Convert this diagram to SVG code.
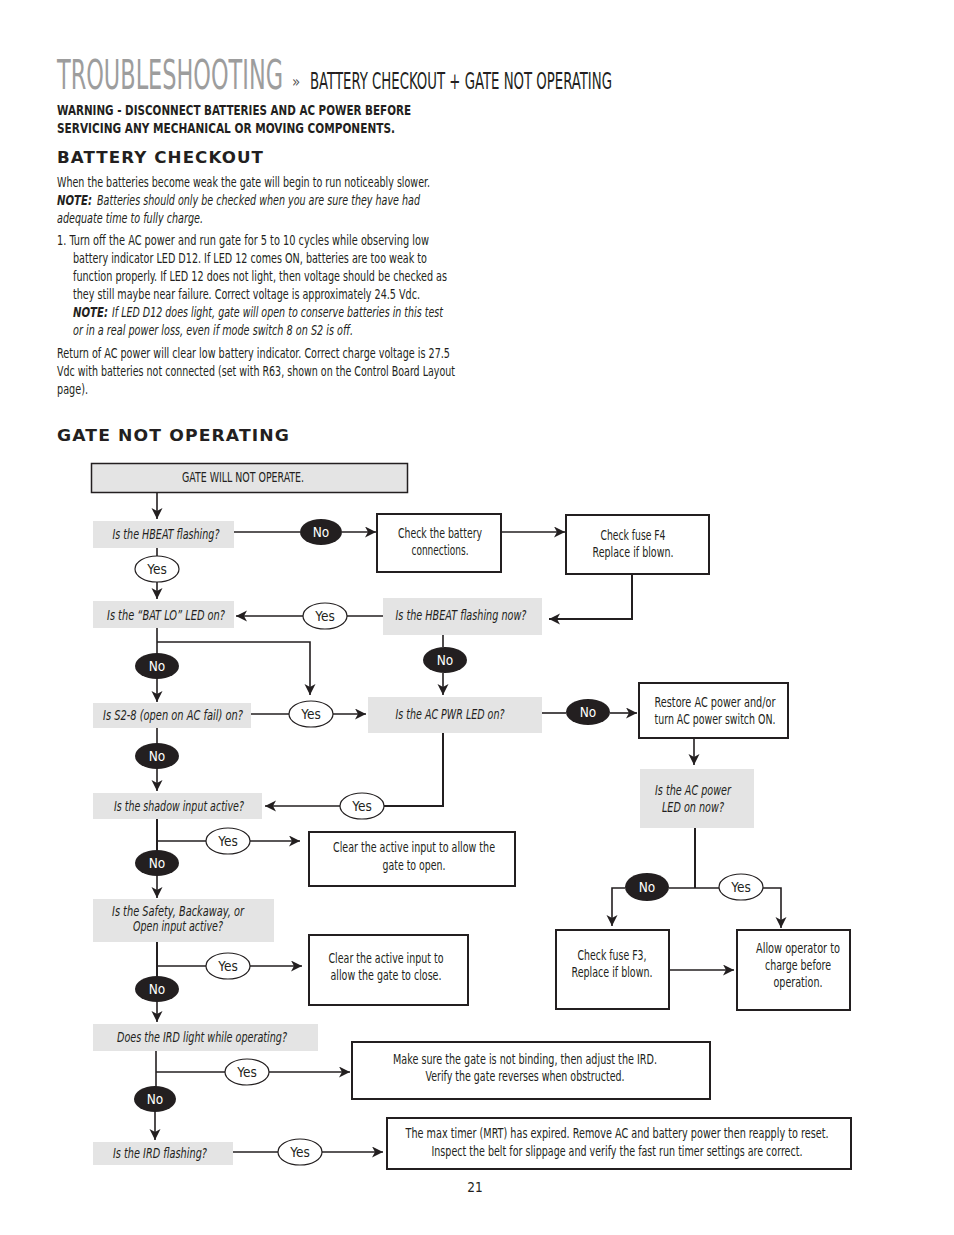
<svg xmlns="http://www.w3.org/2000/svg" width="954" height="1235" viewBox="0 0 954 1235">
<style>
text{font-family:"Liberation Sans Narrow","DejaVu Sans Condensed","Liberation Sans",sans-serif;fill:#231f20}
.t{font-size:13.5px}
.i{font-style:italic}
.bd{font-weight:bold}
.q{fill:#e4e4e4}
.gb{fill:#e4e4e4;stroke:#231f20;stroke-width:1.5}
.b{fill:#fff;stroke:#231f20;stroke-width:2}
.c{fill:none;stroke:#231f20;stroke-width:1.6}
.no{fill:#231f20}
.yes{fill:#fff;stroke:#231f20;stroke-width:1.2}
.nt{fill:#fff;font-size:13.5px}
.hd{font-family:"DejaVu Sans",sans-serif;font-weight:900;font-size:15.5px;letter-spacing:1px}
</style>
<defs>
<marker id="ar" markerUnits="userSpaceOnUse" markerWidth="12" markerHeight="12" refX="11" refY="5.5" orient="auto">
<path d="M0,0 L11,5.5 L0,11 L3,5.5 z" fill="#231f20"/>
</marker>
</defs>
<rect width="954" height="1235" fill="#fff"/>

<g id="header">
<text transform="translate(57,89) scale(1,1.55)" x="0" y="0" font-size="26" style="fill:#9d9d9d" textLength="226" lengthAdjust="spacingAndGlyphs">TROUBLESHOOTING</text>
<text x="292" y="87" font-size="15" style="fill:#555">»</text>
<text transform="translate(310,89) scale(1,1.35)" x="0" y="0" font-size="17" textLength="302" lengthAdjust="spacingAndGlyphs">BATTERY CHECKOUT + GATE NOT OPERATING</text>
<text x="57" y="115" class="bd" font-size="14" textLength="354" lengthAdjust="spacingAndGlyphs">WARNING - DISCONNECT BATTERIES AND AC POWER BEFORE</text>
<text x="57" y="133" class="bd" font-size="14" textLength="338" lengthAdjust="spacingAndGlyphs">SERVICING ANY MECHANICAL OR MOVING COMPONENTS.</text>
<text x="57" y="163" class="hd" textLength="207" lengthAdjust="spacingAndGlyphs">BATTERY CHECKOUT</text>
</g>

<g id="battery-text" font-size="13.5">
<text x="57" y="187" textLength="373" lengthAdjust="spacingAndGlyphs">When the batteries become weak the gate will begin to run noticeably slower.</text>
<text x="57" y="205" class="i bd" textLength="35" lengthAdjust="spacingAndGlyphs">NOTE:</text>
<text x="97" y="205" class="i" textLength="323" lengthAdjust="spacingAndGlyphs">Batteries should only be checked when you are sure they have had</text>
<text x="57" y="223" class="i" textLength="146" lengthAdjust="spacingAndGlyphs">adequate time to fully charge.</text>
<text x="57" y="245" textLength="372" lengthAdjust="spacingAndGlyphs">1.  Turn off the AC power and run gate for 5 to 10 cycles while observing low</text>
<text x="73" y="263" textLength="354" lengthAdjust="spacingAndGlyphs">battery indicator LED D12. If LED 12 comes ON, batteries are too weak to</text>
<text x="73" y="281" textLength="374" lengthAdjust="spacingAndGlyphs">function properly. If LED 12 does not light, then voltage should be checked as</text>
<text x="73" y="299" textLength="347" lengthAdjust="spacingAndGlyphs">they still maybe near failure. Correct voltage is approximately 24.5 Vdc.</text>
<text x="73" y="317" class="i bd" textLength="35" lengthAdjust="spacingAndGlyphs">NOTE:</text>
<text x="112" y="317" class="i" textLength="331" lengthAdjust="spacingAndGlyphs">If LED D12 does light, gate will open to conserve batteries in this test</text>
<text x="73" y="335" class="i" textLength="280" lengthAdjust="spacingAndGlyphs">or in a real power loss, even if mode switch 8 on S2 is off.</text>
<text x="57" y="358" textLength="393" lengthAdjust="spacingAndGlyphs">Return of AC power will clear low battery indicator. Correct charge voltage is 27.5</text>
<text x="57" y="376" textLength="398" lengthAdjust="spacingAndGlyphs">Vdc with batteries not connected (set with R63, shown on the Control Board Layout</text>
<text x="57" y="394" textLength="31" lengthAdjust="spacingAndGlyphs">page).</text>
<text x="57" y="441" class="hd" textLength="233" lengthAdjust="spacingAndGlyphs">GATE NOT OPERATING</text>
</g>

<g id="connectors">
<path class="c" d="M157,492 V519" marker-end="url(#ar)"/>
<path class="c" d="M233,532 H300"/>
<path class="c" d="M342,532 H376" marker-end="url(#ar)"/>
<path class="c" d="M501,532 H565" marker-end="url(#ar)"/>
<path class="c" style="stroke-width:2" d="M632,574 V619 H549" marker-end="url(#ar)"/>
<path class="c" d="M383,616 H347"/>
<path class="c" d="M303,616 H236" marker-end="url(#ar)"/>
<path class="c" d="M157,548 V556"/>
<path class="c" d="M157,582 V599" marker-end="url(#ar)"/>
<path class="c" d="M157,628 V653"/>
<path class="c" d="M157,679 V702" marker-end="url(#ar)"/>
<path class="c" d="M157,642 H310 V695" marker-end="url(#ar)"/>
<path class="c" d="M251,714 H289"/>
<path class="c" d="M333,714 H366" marker-end="url(#ar)"/>
<path class="c" d="M443,635 V647"/>
<path class="c" d="M443,673 V695" marker-end="url(#ar)"/>
<path class="c" d="M542,713 H566"/>
<path class="c" d="M610,713 H637" marker-end="url(#ar)"/>
<path class="c" d="M694,738 V765" marker-end="url(#ar)"/>
<path class="c" style="stroke-width:2" d="M695,828 V888"/>
<path class="c" d="M669,888 H695 H719"/>
<path class="c" d="M625,888 H612 V926" marker-end="url(#ar)"/>
<path class="c" d="M763,888 H781 V928" marker-end="url(#ar)"/>
<path class="c" d="M669,970 H734" marker-end="url(#ar)"/>
<path class="c" style="stroke-width:2" d="M443,733 V806 H384"/>
<path class="c" d="M340,806 H265" marker-end="url(#ar)"/>
<path class="c" d="M157,728 V743"/>
<path class="c" d="M157,769 V791" marker-end="url(#ar)"/>
<path class="c" style="stroke-width:2" d="M157,819 V850"/>
<path class="c" d="M157,876 V898" marker-end="url(#ar)"/>
<path class="c" d="M157,841 H206"/>
<path class="c" d="M250,841 H300" marker-end="url(#ar)"/>
<path class="c" style="stroke-width:2" d="M157,941 V976"/>
<path class="c" d="M157,1002 V1022" marker-end="url(#ar)"/>
<path class="c" d="M157,966 H206"/>
<path class="c" d="M250,966 H302" marker-end="url(#ar)"/>
<path class="c" d="M156,1051 V1087"/>
<path class="c" d="M155,1112 V1140" marker-end="url(#ar)"/>
<path class="c" d="M156,1072 H225"/>
<path class="c" d="M269,1072 H350" marker-end="url(#ar)"/>
<path class="c" d="M233,1152 H278"/>
<path class="c" d="M322,1152 H383" marker-end="url(#ar)"/>
</g>

<g id="n-start">
<rect class="gb" x="91.5" y="463.5" width="316" height="29"/>
<text class="t" x="243" y="482" text-anchor="middle" textLength="122" lengthAdjust="spacingAndGlyphs">GATE WILL NOT OPERATE.</text>
</g>
<g id="n-hbeat">
<rect class="q" x="93" y="521" width="141" height="27"/>
<text class="t i" x="166" y="539" text-anchor="middle" textLength="107" lengthAdjust="spacingAndGlyphs">Is the HBEAT flashing?</text>
</g>
<g id="n-battery">
<rect class="b" x="377" y="514" width="124" height="58"/>
<text class="t" x="440" y="538" text-anchor="middle" textLength="84" lengthAdjust="spacingAndGlyphs">Check the battery</text>
<text class="t" x="440" y="555" text-anchor="middle" textLength="57" lengthAdjust="spacingAndGlyphs">connections.</text>
</g>
<g id="n-f4">
<rect class="b" x="566" y="515" width="143" height="59"/>
<text class="t" x="633" y="540" text-anchor="middle" textLength="65" lengthAdjust="spacingAndGlyphs">Check fuse F4</text>
<text class="t" x="633" y="557" text-anchor="middle" textLength="81" lengthAdjust="spacingAndGlyphs">Replace if blown.</text>
</g>
<g id="n-batlo">
<rect class="q" x="93" y="601" width="141" height="27"/>
<text class="t i" x="166" y="620" text-anchor="middle" textLength="118" lengthAdjust="spacingAndGlyphs">Is the “BAT LO” LED on?</text>
</g>
<g id="n-hbeatnow">
<rect class="q" x="383" y="598" width="159" height="37"/>
<text class="t i" x="461" y="620" text-anchor="middle" textLength="131" lengthAdjust="spacingAndGlyphs">Is the HBEAT flashing now?</text>
</g>
<g id="n-s28">
<rect class="q" x="93" y="703" width="158" height="25"/>
<text class="t i" x="173" y="720" text-anchor="middle" textLength="140" lengthAdjust="spacingAndGlyphs">Is S2-8 (open on AC fail) on?</text>
</g>
<g id="n-acpwr">
<rect class="q" x="368" y="697" width="174" height="36"/>
<text class="t i" x="450" y="719" text-anchor="middle" textLength="109" lengthAdjust="spacingAndGlyphs">Is the AC PWR LED on?</text>
</g>
<g id="n-restore">
<rect class="b" x="639" y="683" width="149" height="55"/>
<text class="t" x="715" y="707" text-anchor="middle" textLength="121" lengthAdjust="spacingAndGlyphs">Restore AC power and/or</text>
<text class="t" x="715" y="724" text-anchor="middle" textLength="121" lengthAdjust="spacingAndGlyphs">turn AC power switch ON.</text>
</g>
<g id="n-acnow">
<rect class="q" x="640" y="769" width="114" height="59"/>
<text class="t i" x="693" y="795" text-anchor="middle" textLength="76" lengthAdjust="spacingAndGlyphs">Is the AC power</text>
<text class="t i" x="693" y="812" text-anchor="middle" textLength="62" lengthAdjust="spacingAndGlyphs">LED on now?</text>
</g>
<g id="n-shadow">
<rect class="q" x="93" y="793" width="169" height="26"/>
<text class="t i" x="179" y="811" text-anchor="middle" textLength="130" lengthAdjust="spacingAndGlyphs">Is the shadow input active?</text>
</g>
<g id="n-clearopen">
<rect class="b" x="309" y="832" width="206" height="54"/>
<text class="t" x="414" y="852" text-anchor="middle" textLength="162" lengthAdjust="spacingAndGlyphs">Clear the active input to allow the</text>
<text class="t" x="414" y="870" text-anchor="middle" textLength="63" lengthAdjust="spacingAndGlyphs">gate to open.</text>
</g>
<g id="n-safety">
<rect class="q" x="93" y="899" width="181" height="43"/>
<text class="t i" x="178" y="916" text-anchor="middle" textLength="132" lengthAdjust="spacingAndGlyphs">Is the Safety, Backaway, or</text>
<text class="t i" x="178" y="931" text-anchor="middle" textLength="90" lengthAdjust="spacingAndGlyphs">Open input active?</text>
</g>
<g id="n-clearclose">
<rect class="b" x="309" y="935" width="159" height="70"/>
<text class="t" x="386" y="963" text-anchor="middle" textLength="115" lengthAdjust="spacingAndGlyphs">Clear the active input to</text>
<text class="t" x="386" y="980" text-anchor="middle" textLength="111" lengthAdjust="spacingAndGlyphs">allow the gate to close.</text>
</g>
<g id="n-f3">
<rect class="b" x="556" y="930" width="113" height="79"/>
<text class="t" x="612" y="960" text-anchor="middle" textLength="69" lengthAdjust="spacingAndGlyphs">Check fuse F3,</text>
<text class="t" x="612" y="977" text-anchor="middle" textLength="81" lengthAdjust="spacingAndGlyphs">Replace if blown.</text>
</g>
<g id="n-allow">
<rect class="b" x="737" y="930" width="113" height="80"/>
<text class="t" x="798" y="953" text-anchor="middle" textLength="84" lengthAdjust="spacingAndGlyphs">Allow operator to</text>
<text class="t" x="798" y="970" text-anchor="middle" textLength="66" lengthAdjust="spacingAndGlyphs">charge before</text>
<text class="t" x="798" y="987" text-anchor="middle" textLength="49" lengthAdjust="spacingAndGlyphs">operation.</text>
</g>
<g id="n-irdlight">
<rect class="q" x="93" y="1024" width="225" height="27"/>
<text class="t i" x="202" y="1042" text-anchor="middle" textLength="170" lengthAdjust="spacingAndGlyphs">Does the IRD light while operating?</text>
</g>
<g id="n-binding">
<rect class="b" x="352" y="1042" width="358" height="57"/>
<text class="t" x="525" y="1064" text-anchor="middle" textLength="264" lengthAdjust="spacingAndGlyphs">Make sure the gate is not binding, then adjust the IRD.</text>
<text class="t" x="525" y="1081" text-anchor="middle" textLength="199" lengthAdjust="spacingAndGlyphs">Verify the gate reverses when obstructed.</text>
</g>
<g id="n-irdflash">
<rect class="q" x="93" y="1142" width="140" height="23"/>
<text class="t i" x="160" y="1158" text-anchor="middle" textLength="94" lengthAdjust="spacingAndGlyphs">Is the IRD flashing?</text>
</g>
<g id="n-maxtimer">
<rect class="b" x="387" y="1118" width="464" height="51"/>
<text class="t" x="617" y="1138" text-anchor="middle" textLength="423" lengthAdjust="spacingAndGlyphs">The max timer (MRT) has expired. Remove AC and battery power then reapply to reset.</text>
<text class="t" x="617" y="1156" text-anchor="middle" textLength="371" lengthAdjust="spacingAndGlyphs">Inspect the belt for slippage and verify the fast run timer settings are correct.</text>
</g>

<g id="labels">
<ellipse class="no" cx="321" cy="532" rx="21" ry="13"/><text class="nt" x="321" y="537" text-anchor="middle">No</text>
<ellipse class="yes" cx="157" cy="569" rx="22" ry="13"/><text class="t" x="157" y="574" text-anchor="middle">Yes</text>
<ellipse class="yes" cx="325" cy="616" rx="22" ry="13"/><text class="t" x="325" y="621" text-anchor="middle">Yes</text>
<ellipse class="no" cx="157" cy="666" rx="22" ry="13"/><text class="nt" x="157" y="671" text-anchor="middle">No</text>
<ellipse class="no" cx="445" cy="660" rx="22" ry="13"/><text class="nt" x="445" y="665" text-anchor="middle">No</text>
<ellipse class="yes" cx="311" cy="714" rx="22" ry="13"/><text class="t" x="311" y="719" text-anchor="middle">Yes</text>
<ellipse class="no" cx="588" cy="712" rx="22" ry="13"/><text class="nt" x="588" y="717" text-anchor="middle">No</text>
<ellipse class="no" cx="157" cy="756" rx="22" ry="13"/><text class="nt" x="157" y="761" text-anchor="middle">No</text>
<ellipse class="yes" cx="362" cy="806" rx="22" ry="13"/><text class="t" x="362" y="811" text-anchor="middle">Yes</text>
<ellipse class="yes" cx="228" cy="841" rx="22" ry="13"/><text class="t" x="228" y="846" text-anchor="middle">Yes</text>
<ellipse class="no" cx="157" cy="863" rx="22" ry="13"/><text class="nt" x="157" y="868" text-anchor="middle">No</text>
<ellipse class="no" cx="647" cy="887" rx="22" ry="14"/><text class="nt" x="647" y="892" text-anchor="middle">No</text>
<ellipse class="yes" cx="741" cy="887" rx="22" ry="13"/><text class="t" x="741" y="892" text-anchor="middle">Yes</text>
<ellipse class="yes" cx="228" cy="966" rx="22" ry="13"/><text class="t" x="228" y="971" text-anchor="middle">Yes</text>
<ellipse class="no" cx="157" cy="989" rx="22" ry="13"/><text class="nt" x="157" y="994" text-anchor="middle">No</text>
<ellipse class="yes" cx="247" cy="1072" rx="22" ry="13"/><text class="t" x="247" y="1077" text-anchor="middle">Yes</text>
<ellipse class="no" cx="155" cy="1099" rx="21" ry="13"/><text class="nt" x="155" y="1104" text-anchor="middle">No</text>
<ellipse class="yes" cx="300" cy="1152" rx="22" ry="13"/><text class="t" x="300" y="1157" text-anchor="middle">Yes</text>
</g>

<text x="475" y="1192" font-size="13.5" text-anchor="middle">21</text>
</svg>
